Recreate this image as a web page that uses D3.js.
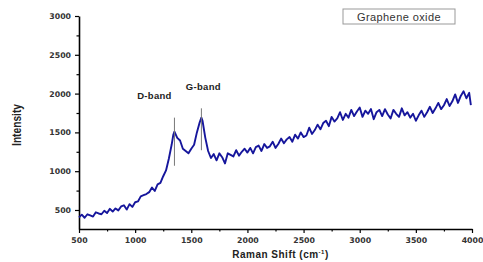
<!DOCTYPE html>
<html>
<head>
<meta charset="utf-8">
<script src="https://cdn.jsdelivr.net/npm/d3@7"></script>
<style>
  body { margin: 0; background: #fff; }
  svg text { font-family: "Liberation Sans", Arial, sans-serif; }
</style>
</head>
<body>
<script>
// raman spectrum
const shift = [500,525,550,575,600,625,650,675,700,725,750,775,800,825,850,875,900,925,950,975,
  1000,1025,1050,1075,1100,1125,1150,1175,1200,1225,1250,1275,1300,1325,1340,1350,1375,1400,1425,1450,
  1475,1500,1525,1550,1575,1590,1600,1625,1650,1675,1700,1725,1750,1775,1800,1825,1850,1875,1900,1925,
  1950,1975,2000,2025,2050,2075,2100,2125,2150,2175,2200,2225,2250,2275,2300,2325,2350,2375,2400,2425,
  2450,2475,2500,2525,2550,2575,2600,2625,2650,2675,2700,2725,2750,2775,2800,2825,2850,2875,2900,2925,
  2950,2975,3000,3025,3050,3075,3100,3125,3150,3175,3200,3225,3250,3275,3300,3325,3350,3375,3400,3425,
  3450,3475,3500,3525,3550,3575,3600,3625,3650,3675,3700,3725,3750,3775,3800,3825,3850,3875,3900,3925,
  3950,3975,3990]
const intensity = [405,440,400,445,430,415,470,455,445,490,460,515,480,520,495,545,560,505,575,540,
  600,610,675,690,705,730,790,745,830,850,935,1010,1160,1340,1470,1510,1430,1395,1290,1260,
  1230,1290,1340,1500,1630,1690,1650,1430,1260,1170,1220,1140,1230,1180,1100,1230,1210,1190,1270,1200,
  1250,1290,1240,1300,1230,1310,1330,1260,1350,1300,1320,1380,1300,1350,1420,1360,1410,1440,1380,1470,
  1420,1500,1440,1460,1560,1480,1530,1600,1540,1620,1650,1580,1700,1640,1680,1760,1660,1740,1690,1790,
  1710,1770,1820,1700,1780,1740,1800,1670,1760,1790,1710,1800,1730,1680,1790,1740,1700,1810,1720,1760,
  1690,1740,1650,1720,1780,1700,1760,1830,1750,1810,1880,1800,1850,1930,1840,1900,1990,1880,1970,2030,
  1940,2010,1850]

const xTicks = [500,1000,1500,2000,2500,3000,3500,4000]
const yTicks = [500,1000,1500,2000,2500,3000]
const bandNames = ["D-band","G-band"]
const bandPos = [1350,1590]
const seriesName = "Graphene oxide"

const W = 483, H = 262
const margin = {top:16, right:11, bottom:33, left:79}

const svg = d3.select("body").append("svg")
  .attr("width", W).attr("height", H)

const x = d3.scaleLinear().domain([500,4000]).range([margin.left, W-margin.right])
const y = d3.scaleLinear().domain([255,3000]).range([H-margin.bottom, margin.top])

// minor ticks first
svg.append("g")
  .attr("transform","translate(0,"+(H-margin.bottom)+")")
  .call(d3.axisBottom(x).tickValues(d3.range(750,4000,500)).tickSize(2.5).tickFormat(""))
  .call(g => g.select(".domain").remove())
svg.append("g")
  .attr("transform","translate("+margin.left+",0)")
  .call(d3.axisLeft(y).tickValues(d3.range(750,3000,500)).tickSize(2.5).tickFormat(""))
  .call(g => g.select(".domain").remove())

const xAxis = svg.append("g")
  .attr("transform","translate(0,"+(H-margin.bottom)+")")
  .call(d3.axisBottom(x).tickValues(xTicks).tickFormat(d3.format("d")).tickSize(4).tickSizeOuter(0).tickPadding(4))
const yAxis = svg.append("g")
  .attr("transform","translate("+margin.left+",0)")
  .call(d3.axisLeft(y).tickValues(yTicks).tickFormat(d3.format("d")).tickSize(4).tickSizeOuter(0).tickPadding(4))

;[xAxis, yAxis].forEach(function(a){
  a.select(".domain").attr("stroke-width",1.6)
  a.selectAll("text").style("font-family","'DejaVu Sans', sans-serif")
    .style("font-size","7.8px").style("font-weight","bold").attr("fill","#333")
})
svg.selectAll(".tick line").attr("stroke-width",1.2)

// spectrum
const pts = shift.map((s,i) => [s, intensity[i]])
svg.append("path")
  .datum(pts)
  .attr("fill","none")
  .attr("stroke","#16169c")
  .attr("stroke-width",1.9)
  .attr("stroke-linejoin","round")
  .attr("d", d3.line().x(d => x(d[0])).y(d => y(d[1])))

// band markers
const lineTop = [1690, 1810]
const lineBot = [1070, 1270]
const textY = [1930, 2040]
bandPos.forEach(function(p,i){
  svg.append("line")
    .attr("x1",x(p)).attr("x2",x(p))
    .attr("y1",y(lineTop[i])).attr("y2",y(lineBot[i]))
    .attr("stroke","#777").attr("stroke-width",1)
  svg.append("text")
    .attr("x", i==0 ? x(p)-20 : x(p)+2)
    .attr("y", y(textY[i]))
    .attr("text-anchor","middle")
    .style("font-size","9.5px").style("font-weight","bold")
    .style("letter-spacing","0.3px")
    .attr("fill","#222")
    .text(bandNames[i])
})

// legend box
svg.append("rect")
  .attr("x",343).attr("y",9).attr("width",112).attr("height",15)
  .attr("fill","none").attr("stroke","#999").attr("stroke-width",1)
svg.append("text")
  .attr("x",399).attr("y",21)
  .attr("text-anchor","middle")
  .style("font-size","11px").style("letter-spacing","0.4px")
  .attr("fill","#333")
  .text(seriesName)

// axis titles
svg.append("text")
  .attr("x",(margin.left+W-margin.right)/2+5).attr("y",258)
  .attr("text-anchor","middle")
  .style("font-size","10px").style("font-weight","bold")
  .style("letter-spacing","0.5px")
  .attr("fill","#222")
  .html('Raman Shift (cm<tspan dy="-4" font-size="6px">-1</tspan><tspan dy="4">)</tspan>')

svg.append("text")
  .attr("transform","translate(21,125) rotate(-90) scale(0.85,1)")
  .attr("text-anchor","middle")
  .style("font-size","12px").style("font-weight","bold")
  .attr("fill","#222")
  .text("Intensity")
</script>
</body>
</html>
